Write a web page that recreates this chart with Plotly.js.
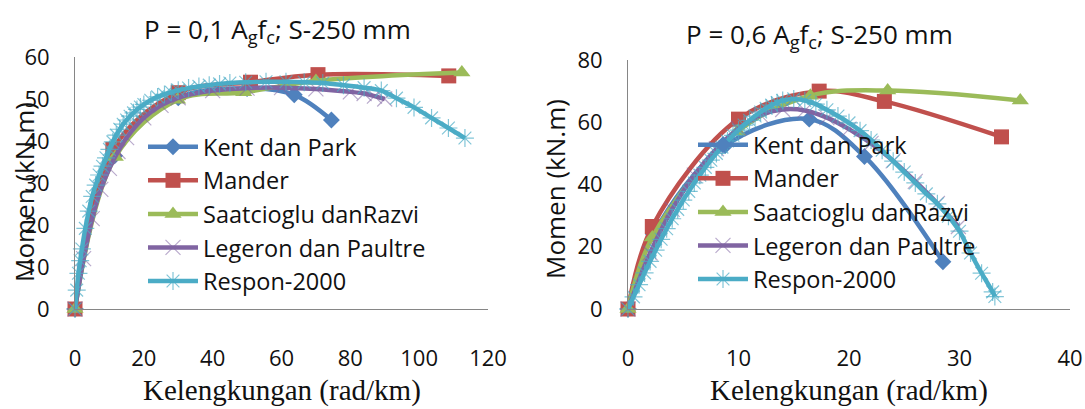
<!DOCTYPE html>
<html>
<head>
<meta charset="utf-8">
<script src="https://cdn.plot.ly/plotly-3.0.1.min.js"></script>
<style>html,body{margin:0;padding:0;background:#fff;}#chart{width:1085px;height:409px;}</style>
</head>
<body>
<div id="chart"></div>
<script>
// ---------- Data: P = 0,1 Ag fc ----------
const seriesNames = ['Kent dan Park', 'Mander', 'Saatcioglu danRazvi', 'Legeron dan Paultre', 'Respon-2000'];

const kent1_x = [0, 11.5, 30, 50, 63.7, 74.5];
const kent1_y = [0, 36.5, 50.3, 52.5, 51, 45];
const mander1_x = [0, 11, 30, 51, 70.6, 108.6];
const mander1_y = [0, 38, 51.5, 54, 55.8, 55.5];
const saat1_x = [0, 11.7, 29.8, 49, 70, 112.4];
const saat1_y = [0, 36.2, 49.8, 51.6, 54.3, 56.3];
const leg1_x = [0, 2.5, 5, 7.5, 10, 12.5, 15, 20, 25, 30, 40, 50, 60, 70, 80, 84, 87, 90];
const leg1_y = [0, 12, 21.5, 28.5, 33.5, 37.5, 40.8, 45.5, 48.5, 50.3, 52, 52.6, 52.7, 52.4, 51.7, 51.3, 50.7, 50];
const resp1_x = [0, 0.5, 1, 1.5, 2, 3, 4, 5, 6, 7, 8, 9, 10, 11, 12, 13, 14, 15, 16, 17, 18, 19, 20, 22, 24, 26, 28, 30, 33, 36, 39, 42, 45, 49.6, 55.5, 61.3, 66.6, 72, 78, 84, 89, 93.4, 98.5, 103.6, 108.5, 113.3];
const resp1_y = [0, 4.5, 8.5, 11.5, 14.3, 19.2, 23.3, 26.8, 29.5, 31.9, 34, 36, 38, 39.8, 41.4, 42.8, 44, 45, 45.9, 46.7, 47.5, 48.1, 48.7, 49.7, 50.5, 51.1, 51.6, 52.1, 52.6, 53, 53.3, 53.6, 53.8, 54, 54.1, 54.1, 54, 53.8, 53.3, 52.7, 52, 50.2, 48, 45.5, 43.1, 40.7];

// ---------- Data: P = 0,6 Ag fc ----------
const kent2_x = [0, 2.3, 8.8, 16.4, 21.4, 28.5];
const kent2_y = [0, 24, 52.5, 61, 49, 15.2];
const mander2_x = [0, 2.2, 10, 17.3, 23.2, 33.8];
const mander2_y = [0, 26.5, 61, 70, 66.7, 55.3];
const saat2_x = [0, 2.2, 9.9, 16.5, 23.5, 35.5];
const saat2_y = [0, 23, 57, 68.5, 70.2, 67];
const leg2_x = [0, 2, 4, 6, 8, 10, 12, 14, 16, 18, 20, 22, 24, 26, 28, 29.9];
const leg2_y = [0, 18, 32, 43, 51.5, 58, 62.3, 64.1, 63.8, 61.5, 57.8, 53.2, 47.6, 41, 33.9, 26.5];
const resp2_x = [0, 0.5, 1, 1.5, 2, 2.5, 3, 3.5, 4, 4.5, 5, 5.5, 6, 6.5, 7, 7.5, 8, 8.5, 9, 9.5, 10, 10.5, 11, 11.5, 12, 12.5, 13, 13.5, 14, 15, 16, 17, 18, 19, 20, 21, 22, 23, 24, 25, 26, 27, 28, 29, 30, 31, 32, 33, 33.2];
const resp2_y = [0, 3.9, 7.8, 11.6, 15.3, 18.9, 22.4, 25.8, 29, 32, 35, 37.8, 40.5, 43, 45.5, 47.8, 50, 52, 54, 55.8, 57.5, 59.1, 60.6, 62, 63.3, 64.5, 65.5, 66.3, 67, 67.5, 67, 65.8, 64, 62, 59.8, 57.3, 54.3, 51, 47.5, 44, 40.5, 37, 33.8, 29.8, 25, 18, 11.5, 5.5, 4];

// ---------- Styles ----------
const colors = ['#4F81BD', '#C0504D', '#9BBB59', '#8064A2', '#4BACC6'];
const markers = [
  {symbol: 'diamond', size: 13},
  {symbol: 'square', size: 15},
  {symbol: 'triangle-up', size: 15},
  {symbol: 'x-thin', size: 15},
  {symbol: 'asterisk', size: 15}
];

function mk(i, xs, ys, xa, ya, lg) {
  const m = Object.assign({}, markers[i]);
  m.color = colors[i];
  if (m.symbol === 'x-thin' || m.symbol === 'asterisk') {
    m.line = {color: i === 3 ? 'rgba(128,100,162,0.55)' : 'rgba(75,172,198,0.7)', width: 1.2};
  } else {
    m.line = {width: 0};
  }
  return {
    type: 'scatter', mode: 'lines+markers',
    x: xs, y: ys, xaxis: xa, yaxis: ya,
    name: seriesNames[i], legend: lg,
    line: {color: colors[i], width: 4.5, shape: 'spline', smoothing: 1},
    marker: m, cliponaxis: false
  };
}

const data = [
  mk(0, kent1_x, kent1_y, 'x', 'y', 'legend'),
  mk(1, mander1_x, mander1_y, 'x', 'y', 'legend'),
  mk(2, saat1_x, saat1_y, 'x', 'y', 'legend'),
  mk(3, leg1_x, leg1_y, 'x', 'y', 'legend'),
  mk(4, resp1_x, resp1_y, 'x', 'y', 'legend'),
  mk(0, kent2_x, kent2_y, 'x2', 'y2', 'legend2'),
  mk(1, mander2_x, mander2_y, 'x2', 'y2', 'legend2'),
  mk(2, saat2_x, saat2_y, 'x2', 'y2', 'legend2'),
  mk(3, leg2_x, leg2_y, 'x2', 'y2', 'legend2'),
  mk(4, resp2_x, resp2_y, 'x2', 'y2', 'legend2')
];

const W = 1085, H = 409;
const SANS = '"Open Sans", sans-serif';
const axisCommon = {
  showline: true, linecolor: '#868686', linewidth: 1,
  showgrid: false, zeroline: false, ticks: '', fixedrange: true,
  tickfont: {family: SANS, size: 22, color: '#111'}
};
const xTitleFont = {family: '"Liberation Serif", serif', size: 29, color: '#111'};
const yTitleFont = {family: SANS, size: 26, color: '#111'};

const layout = {
  width: W, height: H,
  margin: {l: 0, r: 0, t: 0, b: 0},
  paper_bgcolor: '#fff', plot_bgcolor: 'rgba(0,0,0,0)',
  font: {family: SANS, size: 22, color: '#111'},
  showlegend: true,
  xaxis: Object.assign({}, axisCommon, {
    domain: [75 / W, 488 / W], range: [0, 120], tick0: 0, dtick: 20, anchor: 'y',
    ticklabelstandoff: 30
  }),
  yaxis: Object.assign({}, axisCommon, {
    domain: [100 / H, 352 / H], range: [0, 60], tick0: 0, dtick: 10, anchor: 'x',
    ticklabelstandoff: 20
  }),
  xaxis2: Object.assign({}, axisCommon, {
    domain: [628 / W, 1070 / W], range: [0, 40], tick0: 0, dtick: 10, anchor: 'y2',
    ticklabelstandoff: 30
  }),
  yaxis2: Object.assign({}, axisCommon, {
    domain: [100 / H, 349 / H], range: [0, 80], tick0: 0, dtick: 20, anchor: 'x2',
    ticklabelstandoff: 20
  }),
  legend: {
    x: 143 / W, y: 1 - 125 / H, xanchor: 'left', yanchor: 'top',
    bgcolor: 'rgba(0,0,0,0)', borderwidth: 0, itemwidth: 50,
    font: {family: SANS, size: 23.5, color: '#111'}
  },
  legend2: {
    x: 693 / W, y: 1 - 123 / H, xanchor: 'left', yanchor: 'top',
    bgcolor: 'rgba(0,0,0,0)', borderwidth: 0, itemwidth: 50,
    font: {family: SANS, size: 23.5, color: '#111'}
  },
  annotations: [
    {text: 'P = 0,1 A<sub>g</sub>f<sub>c</sub>; S-250 mm', xref: 'paper', yref: 'paper',
     x: 277 / W, y: 1 - 30 / H, xanchor: 'center', yanchor: 'middle', showarrow: false,
     font: {family: SANS, size: 26, color: '#111'}},
    {text: 'P = 0,6 A<sub>g</sub>f<sub>c</sub>; S-250 mm', xref: 'paper', yref: 'paper',
     x: 819 / W, y: 1 - 35 / H, xanchor: 'center', yanchor: 'middle', showarrow: false,
     font: {family: SANS, size: 26, color: '#111'}},
    {text: 'Momen (kN.m)', xref: 'paper', yref: 'paper', textangle: -90,
     x: 24 / W, y: 1 - 192 / H, xanchor: 'center', yanchor: 'middle', showarrow: false,
     font: yTitleFont},
    {text: 'Momen (kN.m)', xref: 'paper', yref: 'paper', textangle: -90,
     x: 555 / W, y: 1 - 189 / H, xanchor: 'center', yanchor: 'middle', showarrow: false,
     font: yTitleFont},
    {text: 'Kelengkungan (rad/km)', xref: 'paper', yref: 'paper',
     x: 282 / W, y: 0, xanchor: 'center', yanchor: 'bottom', showarrow: false,
     font: xTitleFont},
    {text: 'Kelengkungan (rad/km)', xref: 'paper', yref: 'paper',
     x: 849 / W, y: 0, xanchor: 'center', yanchor: 'bottom', showarrow: false,
     font: xTitleFont}
  ]
};

Plotly.newPlot('chart', data, layout, {displayModeBar: false, staticPlot: true});
</script>
</body>
</html>
